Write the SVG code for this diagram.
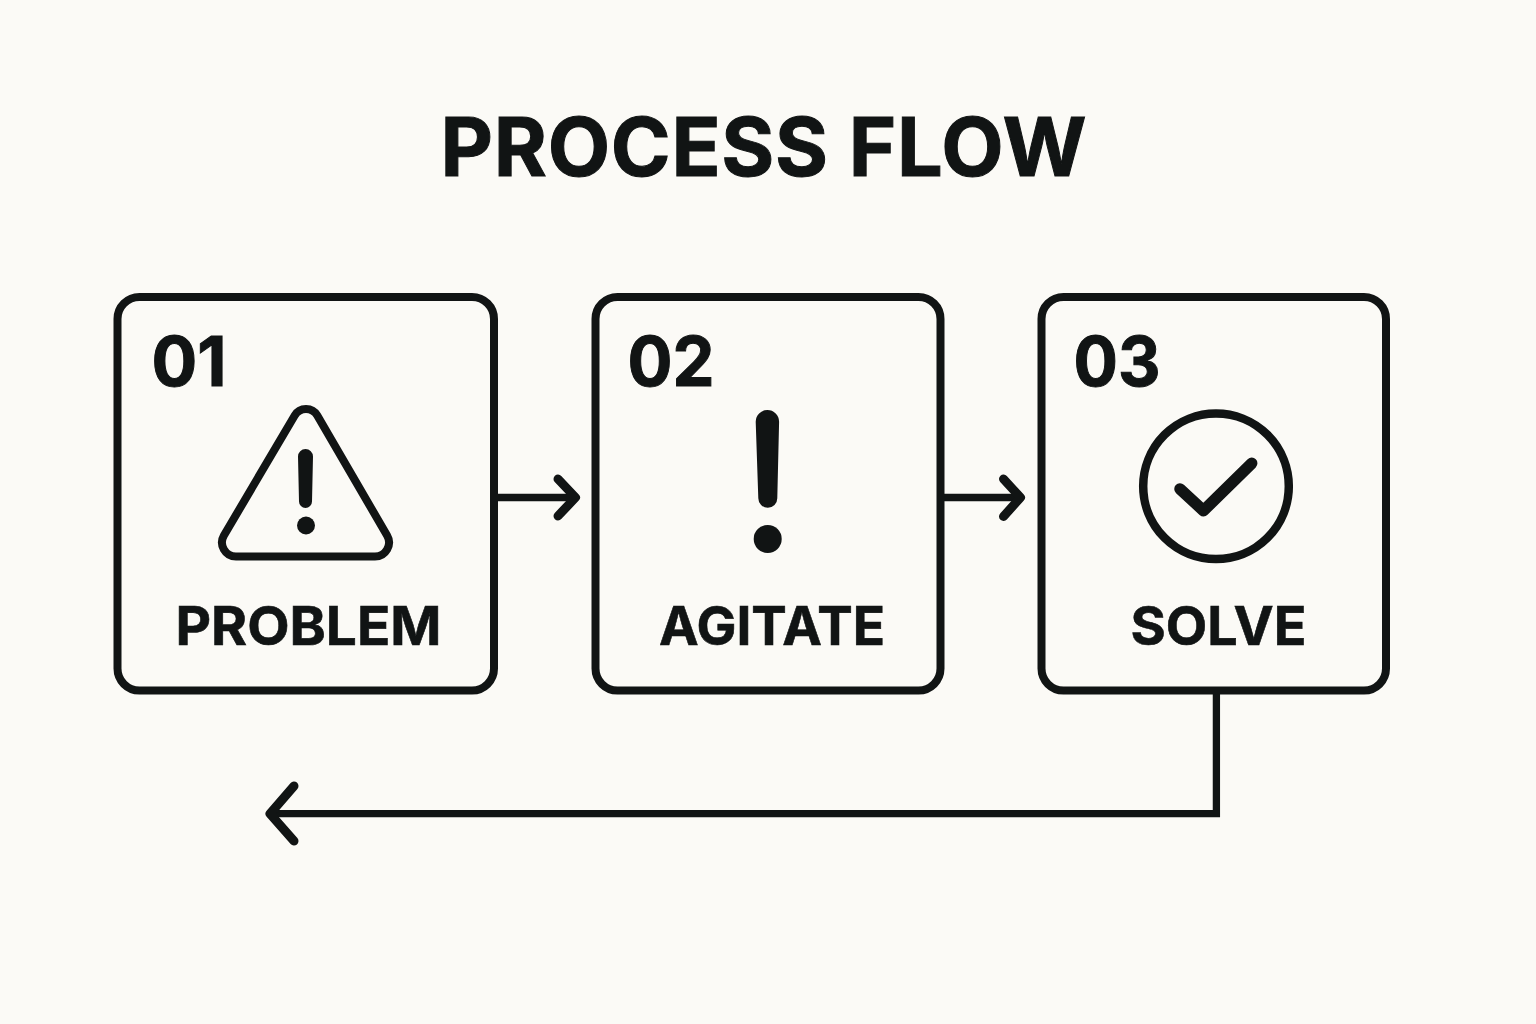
<svg xmlns="http://www.w3.org/2000/svg" width="1536" height="1024" viewBox="0 0 1536 1024">
<style>
.bg{fill:#fbfaf6}
.box{fill:none;stroke:#111414;stroke-width:8}
.line{fill:none;stroke:#111414;stroke-width:8;stroke-linecap:round;stroke-linejoin:round}
.arrow{fill:none;stroke:#111414;stroke-width:9;stroke-linejoin:round;stroke-linecap:round}
.shaft{fill:none;stroke:#111414;stroke-width:7.300;stroke-linejoin:miter;stroke-linecap:butt}
text{font-family:Inter,"Liberation Sans",sans-serif;fill:#111414}
.num{font-size:69px;font-weight:700;stroke:#111414;stroke-width:1}
.lab{font-size:54px;font-weight:700;stroke:#111414;stroke-width:.6}
.title{font-size:81px;font-weight:700;stroke:#111414;stroke-width:1}
.ink{fill:#111414}
</style>
<rect class="bg" width="1536" height="1024"/>
<text class="title" x="763.500" y="175.500" text-anchor="middle" textLength="646" lengthAdjust="spacing">PROCESS FLOW</text>
<g id="connectors">
<path class="shaft" d="M498 497.500H574"/>
<path class="arrow" d="M558 479L575.500 497.500L558 516"/>
<path class="shaft" d="M944 497.500H1019"/>
<path class="arrow" d="M1003.500 479L1020.500 497.500L1003.500 516.500"/>
<path class="shaft" d="M1216.400 694V813.700H272"/>
<path class="arrow" d="M294 786L270 813.700L294 841"/>
</g>
<g id="node-problem">
<rect class="box" x="117.500" y="297" width="376.500" height="393.500" rx="22"/>
<text class="num" x="151.500" y="386" textLength="75" lengthAdjust="spacingAndGlyphs">01</text>
<path class="line" d="M294.700 415.500A13 13 0 0 1 317.300 415.500L387.100 535.500A14 14 0 0 1 375 556.500H236A14 14 0 0 1 223.900 535.500Z"/>
<path class="ink" d="M298 456.500A7.500 7.500 0 0 1 313 456.500L312 501.500A6.500 6.500 0 0 1 299 501.500Z"/>
<circle class="ink" cx="306" cy="525.500" r="9"/>
<text class="lab" x="308.500" y="645" text-anchor="middle" textLength="266" lengthAdjust="spacingAndGlyphs">PROBLEM</text>
</g>
<g id="node-agitate">
<rect class="box" x="595.500" y="297" width="345" height="393.500" rx="22"/>
<text class="num" x="627.500" y="386" textLength="87" lengthAdjust="spacingAndGlyphs">02</text>
<path class="ink" d="M755.700 421.700A11.700 11.700 0 0 1 779.100 421.700L777.300 498.200A9.500 9.500 0 0 1 758.300 498.200Z"/>
<circle class="ink" cx="767.700" cy="539" r="14"/>
<text class="lab" x="772" y="645" text-anchor="middle" textLength="226" lengthAdjust="spacingAndGlyphs">AGITATE</text>
</g>
<g id="node-solve">
<rect class="box" x="1041.500" y="297" width="344.500" height="393.500" rx="22"/>
<text class="num" x="1073.500" y="386" textLength="87" lengthAdjust="spacingAndGlyphs">03</text>
<circle cx="1216" cy="486.300" r="72.800" fill="none" stroke="#111414" stroke-width="8.500"/>
<path class="line" d="M1180 489L1203.500 510.700L1251.700 463.300" style="stroke-width:11.500"/>
<text class="lab" x="1218.500" y="645" text-anchor="middle" textLength="176" lengthAdjust="spacingAndGlyphs">SOLVE</text>
</g>
</svg>
